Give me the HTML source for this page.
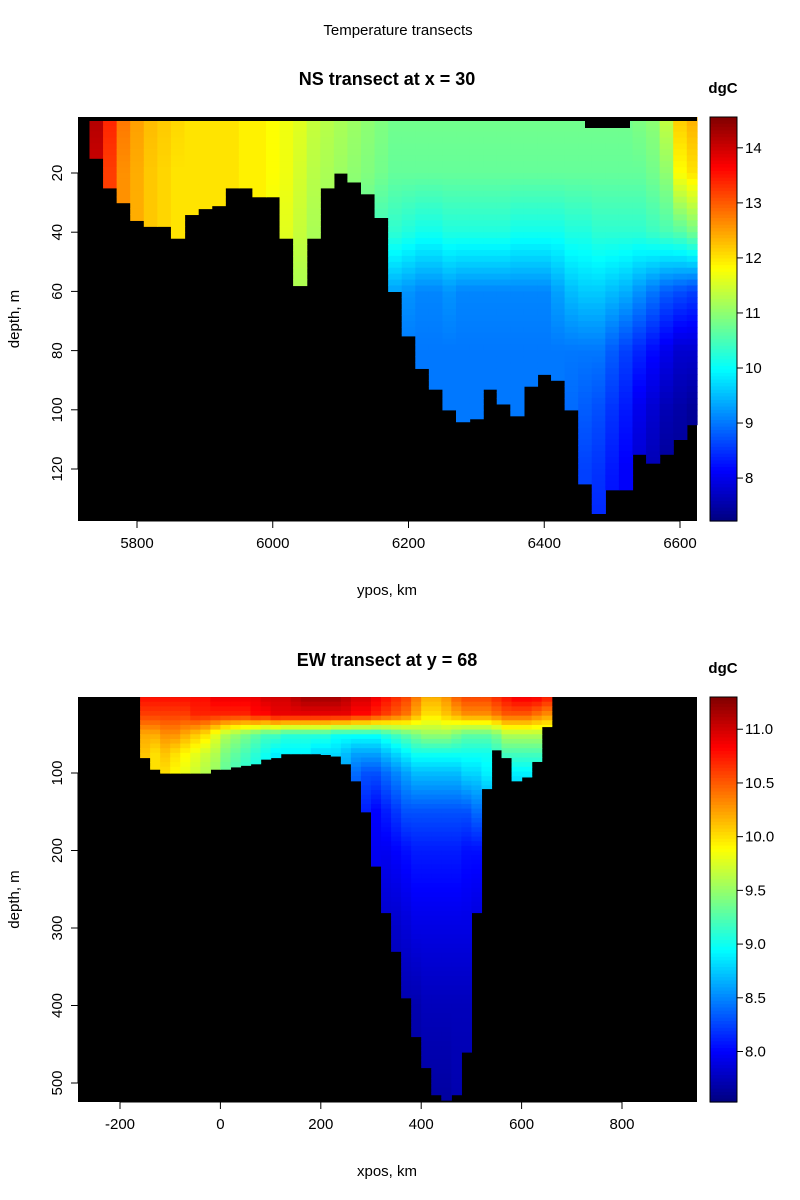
<!DOCTYPE html>
<html><head><meta charset="utf-8"><title>Temperature transects</title>
<style>
html,body{margin:0;padding:0;background:#fff;}
svg{display:block;font-family:"Liberation Sans",Arial,sans-serif;}
</style></head>
<body>
<svg id="chart" width="800" height="1200" viewBox="0 0 800 1200" xmlns="http://www.w3.org/2000/svg">
<text x="398" y="35" font-size="15" text-anchor="middle">Temperature transects</text>
<g id="p1"></g>
<g id="p2"></g>
</svg>
<script>
// ===== NS transect data (x = 30) =====
const nsYpos = [5720,5740,5760,5780,5800,5820,5840,5860,5880,5900,5920,5940,5960,5980,6000,6020,6040,6060,6080,6100,6120,6140,6160,6180,6200,6220,6240,6260,6280,6300,6320,6340,6360,6380,6400,6420,6440,6460,6480,6500,6520,6540,6560,6580,6600,6620];
const nsBottom = [2,15,25,30,36,38,38,42,34,32,31,25,25,28,28,42,58,42,25,20,23,27,35,60,75,86,93,100,104,103,93,98,102,92,88,90,100,125,135,127,127,115,118,115,110,105];
const nsLevels = [0,20,40,60,80,100,120,140];
const nsT0  = [14.5,14.2,13.4,12.8,12.5,12.3,12.2,12.1,12.0,12.0,12.0,12.0,11.9,11.9,11.8,11.7,11.6,11.4,11.3,11.2,11.1,11.0,10.9,10.8,10.8,10.8,10.8,10.8,10.8,10.8,10.8,10.8,10.8,10.8,10.8,10.8,10.8,10.8,10.8,10.8,10.8,10.9,11.0,11.4,12.2,12.4];
const nsT20 = [14.5,14.0,13.2,12.6,12.4,12.2,12.1,12.0,12.0,12.0,12.0,12.0,11.9,11.9,11.8,11.7,11.5,11.3,11.2,11.1,11.0,10.9,10.8,10.7,10.7,10.7,10.7,10.7,10.7,10.7,10.7,10.7,10.7,10.7,10.7,10.7,10.7,10.7,10.7,10.7,10.7,10.7,10.8,11.0,11.8,12.0];
const nsT40 = [14.5,14.0,13.2,12.6,12.4,12.2,12.1,12.0,12.0,12.0,12.0,12.0,11.9,11.9,11.7,11.6,11.4,11.2,11.1,11.0,10.8,10.6,10.4,10.3,10.2,10.1,10.1,10.2,10.2,10.2,10.2,10.2,10.1,10.1,10.1,10.1,10.2,10.2,10.3,10.3,10.3,10.3,10.4,10.5,10.6,10.8];
const nsT60 = [14.5,14.0,13.2,12.6,12.4,12.2,12.1,12.0,12.0,12.0,12.0,12.0,11.9,11.9,11.6,11.5,11.2,11.1,11.0,10.8,10.6,10.4,9.6,9.3,9.2,9.1,9.1,9.2,9.1,9.1,9.1,9.1,9.1,9.1,9.1,9.3,9.5,9.6,9.6,9.5,9.4,9.2,9.0,8.8,8.7,8.6];
const nsT80 = [14.5,14.0,13.2,12.6,12.4,12.2,12.1,12.0,12.0,12.0,12.0,12.0,11.9,11.9,11.6,11.5,11.2,11.1,11.0,10.8,10.6,10.4,9.6,9.1,9.0,9.0,9.0,9.0,9.0,9.0,9.0,9.0,9.0,9.0,9.0,9.0,9.0,9.0,9.0,8.8,8.6,8.4,8.2,8.0,7.8,7.8];
const nsT100= [14.5,14.0,13.2,12.6,12.4,12.2,12.1,12.0,12.0,12.0,12.0,12.0,11.9,11.9,11.6,11.5,11.2,11.1,11.0,10.8,10.6,10.4,9.6,9.1,9.0,9.0,9.0,9.0,9.0,9.0,9.0,9.0,9.0,9.0,9.0,9.0,8.9,8.8,8.7,8.5,8.3,8.0,7.8,7.6,7.5,7.4];
const nsT120= [14.5,14.0,13.2,12.6,12.4,12.2,12.1,12.0,12.0,12.0,12.0,12.0,11.9,11.9,11.6,11.5,11.2,11.1,11.0,10.8,10.6,10.4,9.6,9.1,9.0,9.0,9.0,9.0,9.0,9.0,9.0,9.0,9.0,9.0,9.0,9.0,8.9,8.6,8.5,8.3,8.1,7.8,7.6,7.4,7.4,7.3];
const nsT140= [14.5,14.0,13.2,12.6,12.4,12.2,12.1,12.0,12.0,12.0,12.0,12.0,11.9,11.9,11.6,11.5,11.2,11.1,11.0,10.8,10.6,10.4,9.6,9.1,9.0,9.0,9.0,9.0,9.0,9.0,9.0,9.0,9.0,9.0,9.0,9.0,8.9,8.6,8.4,8.2,8.1,7.8,7.6,7.4,7.4,7.3];
const nsXTicks = [5800,6000,6200,6400,6600];
const nsYTicks = [20,40,60,80,100,120];
const nsCbTicks = [8,9,10,11,12,13,14];

// ===== EW transect data (y = 68) =====
const ewXpos = [-150,-130,-110,-90,-70,-50,-30,-10,10,30,50,70,90,110,130,150,170,190,210,230,250,270,290,310,330,350,370,390,410,430,450,470,490,510,530,550,570,590,610,630,650];
const ewBottom = [80,95,100,100,100,100,100,95,95,92,90,88,82,80,75,75,75,75,76,78,88,110,150,220,280,330,390,440,480,515,522,515,460,280,120,70,80,110,105,85,40];
const ewLevels = [0,25,50,75,100,150,200,300,400,525];
const ewT0  = [10.8,10.8,10.8,10.8,10.8,10.8,10.8,10.9,10.9,10.9,10.9,10.9,11.0,11.0,11.0,11.1,11.2,11.2,11.2,11.2,11.1,11.0,11.0,10.9,10.8,10.7,10.6,10.4,10.2,10.2,10.3,10.5,10.6,10.6,10.6,10.7,10.8,10.9,10.9,10.9,10.8];
const ewT25 = [10.6,10.6,10.6,10.6,10.6,10.7,10.7,10.7,10.7,10.7,10.7,10.8,10.8,10.9,10.9,10.9,10.9,10.9,10.9,10.9,10.9,10.8,10.8,10.7,10.6,10.5,10.4,10.2,10.0,10.0,10.1,10.2,10.3,10.3,10.3,10.4,10.5,10.5,10.5,10.4,10.3];
const ewT50 = [10.2,10.2,10.3,10.3,10.2,10.1,10.0,9.8,9.6,9.5,9.4,9.3,9.2,9.2,9.1,9.1,9.1,9.1,9.1,9.0,9.0,9.0,9.0,9.0,9.1,9.2,9.3,9.4,9.5,9.5,9.5,9.4,9.3,9.3,9.3,9.4,9.6,9.6,9.6,9.6,9.6];
const ewT75 = [10.1,10.0,10.1,10.0,9.9,9.8,9.7,9.6,9.4,9.3,9.2,9.1,9.0,8.9,8.9,8.9,8.9,8.8,8.8,8.8,8.7,8.6,8.6,8.6,8.7,8.8,8.9,9.0,9.0,9.0,9.0,9.0,9.0,9.0,9.0,9.1,9.2,9.2,9.2,9.2,9.2];
const ewT100= [10.0,10.0,10.0,9.9,9.8,9.7,9.6,9.5,9.3,9.2,9.1,9.0,8.9,8.8,8.8,8.8,8.8,8.7,8.7,8.7,8.6,8.4,8.3,8.3,8.4,8.5,8.6,8.7,8.7,8.7,8.7,8.7,8.8,8.8,8.9,8.9,8.9,8.9,8.9,8.9,8.9];
const ewT150= [10.0,10.0,10.0,9.9,9.8,9.7,9.6,9.5,9.3,9.2,9.1,9.0,8.9,8.8,8.8,8.8,8.8,8.7,8.7,8.7,8.6,8.2,8.1,8.0,8.1,8.2,8.3,8.3,8.3,8.3,8.3,8.3,8.3,8.4,8.5,8.5,8.5,8.5,8.5,8.5,8.5];
const ewT200= [10.0,10.0,10.0,9.9,9.8,9.7,9.6,9.5,9.3,9.2,9.1,9.0,8.9,8.8,8.8,8.8,8.8,8.7,8.7,8.7,8.6,8.2,8.0,7.95,7.95,8.0,8.05,8.1,8.1,8.1,8.1,8.1,8.05,8.05,8.1,8.1,8.1,8.1,8.1,8.1,8.1];
const ewT300= [10.0,10.0,10.0,9.9,9.8,9.7,9.6,9.5,9.3,9.2,9.1,9.0,8.9,8.8,8.8,8.8,8.8,8.7,8.7,8.7,8.6,8.2,8.0,7.9,7.8,7.8,7.85,7.9,7.9,7.9,7.9,7.9,7.9,7.85,7.85,7.85,7.85,7.85,7.85,7.85,7.85];
const ewT400= [10.0,10.0,10.0,9.9,9.8,9.7,9.6,9.5,9.3,9.2,9.1,9.0,8.9,8.8,8.8,8.8,8.8,8.7,8.7,8.7,8.6,8.2,8.0,7.9,7.8,7.7,7.7,7.7,7.75,7.75,7.75,7.75,7.75,7.75,7.75,7.75,7.75,7.75,7.75,7.75,7.75];
const ewT525= [10.0,10.0,10.0,9.9,9.8,9.7,9.6,9.5,9.3,9.2,9.1,9.0,8.9,8.8,8.8,8.8,8.8,8.7,8.7,8.7,8.6,8.2,8.0,7.9,7.8,7.7,7.7,7.65,7.65,7.65,7.65,7.7,7.7,7.7,7.7,7.7,7.7,7.7,7.7,7.7,7.7];
const ewXTicks = [-200,0,200,400,600,800];
const ewYTicks = [100,200,300,400,500];
const ewCbTicks = [8.0,8.5,9.0,9.5,10.0,10.5,11.0];

const NS = "http://www.w3.org/2000/svg";
function mk(parent, tag, attrs, text){
  const e = document.createElementNS(NS, tag);
  for (const k in attrs) e.setAttribute(k, attrs[k]);
  if (text !== undefined) e.textContent = text;
  parent.appendChild(e);
  return e;
}
function jet(t){
  t = Math.max(0, Math.min(1, t));
  const c = x => Math.round(255*Math.max(0, Math.min(1, x)));
  const r = c(1.5 - Math.abs(4*t - 3));
  const g = c(1.5 - Math.abs(4*t - 2));
  const b = c(1.5 - Math.abs(4*t - 1));
  return `rgb(${r},${g},${b})`;
}
function interpProfile(levels, vals, d){
  if (d <= levels[0]) return vals[0];
  for (let i = 1; i < levels.length; i++){
    if (d <= levels[i]){
      const f = (d - levels[i-1])/(levels[i]-levels[i-1]);
      return vals[i-1] + f*(vals[i]-vals[i-1]);
    }
  }
  return vals[vals.length-1];
}

function drawPanel(cfg){
  const g = document.getElementById(cfg.id);
  const P = cfg.plot;
  const bg = mk(g, 'rect', {x:P.l, y:P.t, width:P.r-P.l, height:P.b-P.t, fill:'#000'});
  
  
  const cells = mk(g, 'g', {});
  
  
  const step = cfg.dstep;
  for (let i = 0; i < cfg.cols.length; i++){
    const x0 = Math.max(P.l, cfg.xs(cfg.cols[i] - cfg.half));
    const x1 = Math.min(P.r, cfg.xs(cfg.cols[i] + cfg.half));
    const prof = cfg.rows.map(r => r[i]);
    const bot = cfg.bottom[i];
    for (let d = cfg.dmin; d < bot; d += step){
      const d1 = Math.min(d + step, bot);
      const y0 = Math.max(P.t, cfg.ys(d)), y1 = Math.min(P.b, cfg.ys(d1));
      if (y1 <= y0) continue;
      const v = interpProfile(cfg.levels, prof, (d+d1)/2);
      const c = mk(cells, 'rect', {x:x0.toFixed(2), y:y0.toFixed(2), width:(x1-x0+0.6).toFixed(2), height:(y1-y0+0.6).toFixed(2), fill:jet((v-cfg.vmin)/(cfg.vmax-cfg.vmin))});
      
      
    }
  }
  if (cfg.extra) cfg.extra(g);
  const tt = mk(g, 'text', {x:387, y:cfg.titleY, 'font-size':18, 'font-weight':'bold', 'text-anchor':'middle'}, cfg.title);
  
  
  const xa = mk(g, 'g', {});
  
  
  const xt0 = cfg.xs(cfg.xticks[0]), xt1 = cfg.xs(cfg.xticks[cfg.xticks.length-1]);
  mk(xa, 'line', {x1:xt0, x2:xt1, y1:P.b, y2:P.b, stroke:'#000'});
  cfg.xticks.forEach(v => {
    const x = cfg.xs(v);
    mk(xa, 'line', {x1:x, x2:x, y1:P.b, y2:P.b+7, stroke:'#000'});
    const lb = mk(xa, 'text', {x:x, y:P.b+27, 'font-size':15, 'text-anchor':'middle'}, String(v));
    
    
  });
  const xl = mk(g, 'text', {x:387, y:P.b+74, 'font-size':15, 'text-anchor':'middle'}, cfg.xlabel);
  
  
  const ya = mk(g, 'g', {});
  
  
  mk(ya, 'line', {x1:P.l, x2:P.l, y1:cfg.ys(cfg.yticks[0]), y2:cfg.ys(cfg.yticks[cfg.yticks.length-1]), stroke:'#000'});
  cfg.yticks.forEach(v => {
    const y = cfg.ys(v);
    mk(ya, 'line', {x1:P.l-7, x2:P.l, y1:y, y2:y, stroke:'#000'});
    const lb = mk(ya, 'text', {x:62, y:y, 'font-size':15, 'text-anchor':'middle', transform:`rotate(-90 62 ${y})`}, String(v));
    
    
  });
  const ymid = (P.t+P.b)/2;
  const yl = mk(g, 'text', {x:19, y:ymid, 'font-size':15, 'text-anchor':'middle', transform:`rotate(-90 19 ${ymid})`}, 'depth, m');
  
  
  const cb = mk(g, 'g', {});
  
  
  const CL = 710, CR = 737;
  const n = 120;
  for (let k = 0; k < n; k++){
    const y0 = P.t + (P.b-P.t)*k/n;
    const t = 1 - (k+0.5)/n;
    mk(cb, 'rect', {x:CL, y:y0.toFixed(2), width:CR-CL, height:((P.b-P.t)/n+0.6).toFixed(2), fill:jet(t)});
  }
  mk(cb, 'rect', {x:CL, y:P.t, width:CR-CL, height:P.b-P.t, fill:'none', stroke:'#000'});
  const cbY = v => P.b - (v - cfg.vmin)/(cfg.vmax-cfg.vmin)*(P.b-P.t);
  cfg.cbticks.forEach(v => {
    const y = cbY(v);
    mk(cb, 'line', {x1:CR, x2:CR+6, y1:y, y2:y, stroke:'#000'});
    const lb = mk(cb, 'text', {x:745, y:y+5, 'font-size':15}, cfg.cbfmt(v));
    
    
  });
  const un = mk(g, 'text', {x:723, y:cfg.unitY, 'font-size':15, 'font-weight':'bold', 'text-anchor':'middle'}, 'dgC');
  
  
}

drawPanel({
  id:'p1', plot:{l:78, r:697, t:117, b:521},
  xs: v => 137 + (v-5800)*0.67875,
  ys: d => 173 + (d-20)*2.96,
  cols: nsYpos, half:10, bottom: nsBottom, levels: nsLevels,
  rows: [nsT0,nsT20,nsT40,nsT60,nsT80,nsT100,nsT120,nsT140],
  dmin: 0, dstep: 2, vmin: 7.22, vmax: 14.56,
  xticks: nsXTicks, yticks: nsYTicks, cbticks: nsCbTicks, cbfmt: v => String(v),
  title: 'NS transect at x = 30', titleY: 85, unitY: 93, xlabel: 'ypos, km',
  extra: g => {
    const b1 = mk(g, 'rect', {x:78, y:117, width:619, height:4, fill:'#000'});
    
    
    const b2 = mk(g, 'rect', {x:585, y:117, width:45, height:11, fill:'#000'});
    
    
  }
});
drawPanel({
  id:'p2', plot:{l:78, r:697, t:697, b:1102},
  xs: v => 120 + (v+200)*0.502,
  ys: d => 773 + (d-100)*0.775,
  cols: ewXpos, half:10, bottom: ewBottom, levels: ewLevels,
  rows: [ewT0,ewT25,ewT50,ewT75,ewT100,ewT150,ewT200,ewT300,ewT400,ewT525],
  dmin: 2, dstep: 6, vmin: 7.53, vmax: 11.3,
  xticks: ewXTicks, yticks: ewYTicks, cbticks: ewCbTicks, cbfmt: v => v.toFixed(1),
  title: 'EW transect at y = 68', titleY: 666, unitY: 673, xlabel: 'xpos, km'
});
</script>
</body></html>
